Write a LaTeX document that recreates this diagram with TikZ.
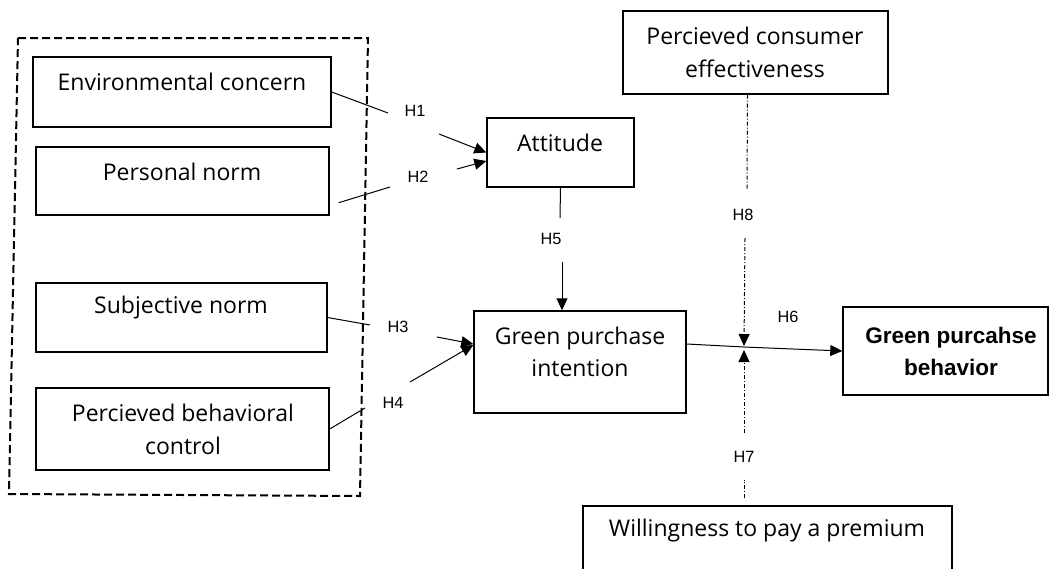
\documentclass[tikz,border=0pt]{standalone}
\usepackage{fontspec}
\setmainfont{Open Sans}
\newfontfamily\arialfont{Liberation Sans}
\usetikzlibrary{arrows.meta,calc}
\begin{document}
\begin{tikzpicture}[x=1pt,y=-1pt,
 box/.style={draw,line width=1.4pt,inner sep=0pt},
 txt/.style={font=\fontsize{23}{32.5}\selectfont,align=center,inner sep=0pt},
 btxt/.style={font=\arialfont\bfseries\fontsize{22.5}{32}\selectfont,align=center,inner sep=0pt},
 hl/.style={font=\arialfont\fontsize{16.3}{18}\selectfont,inner sep=1pt},
 conn/.style={line width=1pt},
 tip/.style={-{Triangle[length=12pt,width=11pt]}},
 arr/.style={conn,tip},
 mod/.style={line width=1pt,dash pattern=on 4pt off 2pt on 1pt off 2pt},
 grp/.style={line width=2pt,dash pattern=on 8pt off 4pt}]
\useasboundingbox (0,0) rectangle (1051,568);
\clip (0,0) rectangle (1051,568);

% group frame
\draw[grp] (18,38) -- (368,38) -- (360,496) -- (9,494) -- cycle;

% boxes
\node[box,minimum width=298pt,minimum height=70pt] (env) at (182,92) {};
\node[box,minimum width=293pt,minimum height=68pt] (pn) at (182.5,181) {};
\node[box,minimum width=291pt,minimum height=69pt] (sn) at (181.5,317.5) {};
\node[box,minimum width=293pt,minimum height=82pt] (pbc) at (182.5,429) {};
\node[box,minimum width=147pt,minimum height=69pt] (att) at (560.5,152.5) {};
\node[box,minimum width=265pt,minimum height=83pt] (pce) at (755.5,52.5) {};
\node[box,minimum width=212pt,minimum height=102pt] (gpi) at (580,362) {};
\node[box,minimum width=205pt,minimum height=88pt] (gpb) at (945.5,351) {};
\node[box,minimum width=369pt,minimum height=84pt] (wtp) at (767.5,548) {};

% texts
\node[txt] (envt) at (182,82) {Environmental concern};
\node[txt] (pnt) at (182,172) {Personal norm};
\node[txt] (snt) at (181,308) {Subjective norm};
\node[txt] (pbct) at (183,429.5) {Percieved behavioral\\control};
\node[txt] (attt) at (560,143) {Attitude};
\node[txt] (pcet) at (755,52.5) {Percieved consumer\\effectiveness};
\node[txt] (gpit) at (580,352) {Green purchase\\intention};
\node[btxt] (gpbt) at (951,351) {Green purcahse\\behavior};
\node[txt] (wtpt) at (767,531) {Willingness to pay a premium};

% free ends of connectors
\coordinate (h1a) at (388,113); \coordinate (h1b) at (439,134);
\coordinate (h2a) at (390,187); \coordinate (h2b) at (457,169);
\coordinate (h3a) at (370,325); \coordinate (h3b) at (437,337);
\coordinate (h4a) at (365,408); \coordinate (h4b) at (410,382);
\coordinate (h5a) at (560,218); \coordinate (h5b) at (562,262);
\coordinate (j) at (744,347);
\coordinate (h8a) at (747,190); \coordinate (h8b) at (745,238);
\coordinate (h7a) at (744,433); \coordinate (h7b) at (744,480);

% labels
\node[hl] (H1) at (415,111) {H1};
\node[hl] (H2) at (418,177) {H2};
\node[hl] (H3) at (398,327) {H3};
\node[hl] (H4) at (393,403) {H4};
\node[hl] (H5) at (551,239) {H5};
\node[hl] (H6) at (788,317) {H6};
\node[hl] (H7) at (744,457) {H7};
\node[hl] (H8) at (743,215) {H8};

% connectors
\draw[conn] (env.east) -- (h1a);
\draw[arr] (h1b) -- (att.west);
\draw[conn] ([shift={(9,-13)}]pn.south east) -- (h2a);
\draw[arr] (h2b) -- ([shift={(0,8.5)}]att.west);
\draw[conn] (sn.east) -- (h3a);
\draw[arr] (h3b) -- ([shift={(0,-18)}]gpi.west);
\draw[conn] (pbc.east) -- (h4a);
\draw[arr] (h4b) -- ([shift={(0,-17)}]gpi.west);
\draw[conn] (att.south) -- (h5a);
\draw[arr] (h5b) -- ([shift={(-18,0)}]gpi.north);
\draw[conn] ([shift={(0,-18)}]gpi.east) -- (j);
\draw[arr] (j) -- (gpb.west);
\draw[mod] ([shift={(-8,0)}]pce.south) -- (h8a);
\draw[mod,tip] (h8b) -- ([shift={(0,-1)}]j);
\draw[mod] ([shift={(-23.5,-7)}]wtp.north) -- (h7b);
\draw[mod,tip] (h7a) -- ([shift={(0,3)}]j);
\end{tikzpicture}
\end{document}
